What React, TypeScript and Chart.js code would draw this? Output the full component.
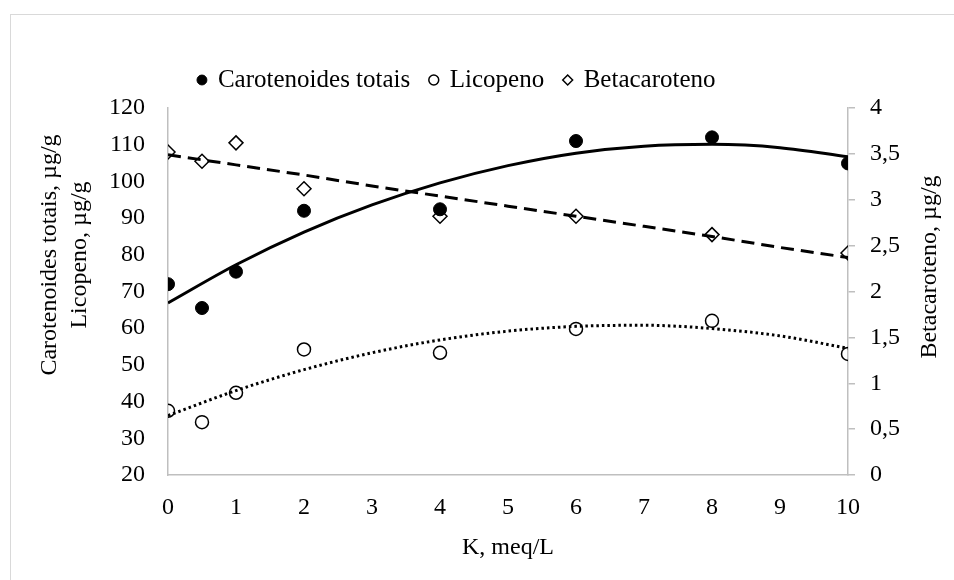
import React, { useEffect, useRef } from 'react';
import { Chart, registerables } from 'chart.js';

Chart.register(...registerables);

// ---- data ----
const xValues = [0, 0.5, 1, 2, 4, 6, 8, 10];
const carotenoides = [72.0, 65.5, 75.4, 92.0, 92.4, 111.0, 112.0, 104.9];
const licopeno = [37.5, 34.4, 42.4, 54.2, 53.3, 59.8, 62.0, 53.0];
const betacaroteno = [3.52, 3.42, 3.62, 3.12, 2.82, 2.82, 2.62, 2.42];

// trend lines
const trendX = [0, 1, 2, 3, 4, 5, 6, 7, 8, 9, 10];
const carotenoidesTrend = [66.9, 77.3, 86.2, 93.6, 99.6, 104.3, 107.7, 109.6, 110.1, 109.2, 106.7];
const licopenoTrend = [36.2, 43.0, 48.7, 53.3, 56.8, 59.2, 60.5, 60.8, 59.9, 57.9, 54.5];
const betacarotenoTrend = [3.49, 3.38, 3.27, 3.15, 3.04, 2.93, 2.82, 2.71, 2.6, 2.48, 2.37];

const seriesNames = ['Carotenoides totais', 'Licopeno', 'Betacaroteno'];
const xTitle = 'K, meq/L';
const leftTitle = ['Carotenoides totais, µg/g', 'Licopeno, µg/g'];
const rightTitle = 'Betacaroteno, µg/g';

const FONT = "'Times New Roman', 'Liberation Serif', serif";
const AXIS_GREY = '#bfbfbf';

export default function App() {
  const ref = useRef<HTMLCanvasElement>(null);

  useEffect(() => {
    if (!ref.current) return;
    const pts = (xs: number[], ys: number[]) => xs.map((x, i) => ({ x, y: ys[i] }));

    const titlesPlugin = {
      id: 'verticalTitles',
      afterDraw(chart: any) {
        const ctx = chart.ctx;
        const area = chart.chartArea;
        ctx.save();
        ctx.fillStyle = '#000';
        ctx.font = `24px ${FONT}`;
        ctx.textAlign = 'center';
        ctx.textBaseline = 'middle';
        leftTitle.forEach((t, i) => {
          ctx.save();
          ctx.translate(area.left - 118 + 30 * i, 255);
          ctx.rotate(-Math.PI / 2);
          ctx.fillText(t, 0, 0);
          ctx.restore();
        });
        ctx.save();
        ctx.translate(area.right + 82, 267);
        ctx.rotate(-Math.PI / 2);
        ctx.fillText(rightTitle, 0, 0);
        ctx.restore();
        ctx.restore();
      },
    };

    const chart = new Chart(ref.current, {
      type: 'scatter',
      data: {
        datasets: [
          {
            label: seriesNames[0],
            data: pts(xValues, carotenoides),
            yAxisID: 'y',
            pointStyle: 'circle',
            pointRadius: 6.5,
            backgroundColor: '#000',
            borderColor: '#000',
            borderWidth: 1,
            pointBorderWidth: 1,
            showLine: false,
          },
          {
            label: seriesNames[1],
            data: pts(xValues, licopeno),
            yAxisID: 'y',
            pointStyle: 'circle',
            pointRadius: 6.5,
            backgroundColor: 'rgba(0,0,0,0)',
            borderColor: '#000',
            borderWidth: 1.5,
            pointBorderWidth: 1.5,
            showLine: false,
          },
          {
            label: seriesNames[2],
            data: pts(xValues, betacaroteno),
            yAxisID: 'y1',
            pointStyle: 'rectRot',
            pointRadius: 7,
            backgroundColor: 'rgba(0,0,0,0)',
            borderColor: '#000',
            borderWidth: 1.5,
            pointBorderWidth: 1.5,
            showLine: false,
          },
          {
            label: 'trend-carotenoides',
            data: pts(trendX, carotenoidesTrend),
            yAxisID: 'y',
            showLine: true,
            pointRadius: 0,
            borderColor: '#000',
            borderWidth: 3,
            cubicInterpolationMode: 'monotone',
          },
          {
            label: 'trend-licopeno',
            data: pts(trendX, licopenoTrend),
            yAxisID: 'y',
            showLine: true,
            pointRadius: 0,
            borderColor: '#000',
            borderWidth: 3,
            borderDash: [2.5, 3],
            cubicInterpolationMode: 'monotone',
          },
          {
            label: 'trend-betacaroteno',
            data: pts(trendX, betacarotenoTrend),
            yAxisID: 'y1',
            showLine: true,
            pointRadius: 0,
            borderColor: '#000',
            borderWidth: 3,
            borderDash: [13, 7],
          },
        ] as any,
      },
      options: {
        responsive: false,
        animation: false,
        layout: { padding: { top: 47.5, left: 10, right: 50, bottom: 0 } },
        plugins: {
          legend: {
            position: 'top',
            labels: {
              usePointStyle: true,
              boxWidth: 7,
              boxHeight: 7,
              padding: 20,
              color: '#000',
              font: { size: 25, family: FONT },
              filter: (item: any) => item.datasetIndex < 3,
            },
          },
          title: {
            display: true,
            text: '',
            weight: 500,
            padding: 0,
            font: { size: 5, lineHeight: 1.1 },
          } as any,
          tooltip: { enabled: false },
        },
        scales: {
          x: {
            type: 'linear',
            min: 0,
            max: 10,
            ticks: { stepSize: 1, padding: 18, color: '#000', font: { size: 24, family: FONT } },
            grid: { display: false, drawTicks: false },
            border: { display: true, color: AXIS_GREY, width: 1.5 },
            title: {
              display: true,
              text: xTitle,
              color: '#000',
              font: { size: 24, family: FONT },
              padding: { top: 0, bottom: 18 },
            },
            afterFit: (s: any) => { s.height = 105; },
          },
          y: {
            type: 'linear',
            position: 'left',
            min: 20,
            max: 120,
            ticks: { stepSize: 10, padding: 23, color: '#000', font: { size: 24, family: FONT } },
            grid: { display: false, drawTicks: false },
            border: { display: true, color: AXIS_GREY, width: 1.5 },
            afterFit: (s: any) => { s.width = 158; },
          },
          y1: {
            type: 'linear',
            position: 'right',
            min: 0,
            max: 4,
            ticks: {
              stepSize: 0.5,
              padding: 15,
              color: '#000',
              font: { size: 24, family: FONT },
              callback: (v: any) => String(v).replace('.', ','),
            },
            grid: { display: true, drawOnChartArea: false, drawTicks: true, tickLength: 7, color: AXIS_GREY, lineWidth: 1.5 },
            border: { display: true, color: AXIS_GREY, width: 1.5 },
            afterFit: (s: any) => { s.width = 56; },
          },
        },
      } as any,
      plugins: [titlesPlugin],
    });
    return () => chart.destroy();
  }, []);

  return (
    <div style={{ position: 'fixed', left: 0, top: 0, width: 954, height: 580, overflow: 'hidden', background: '#fff' }}>
      <div
        style={{
          position: 'absolute',
          left: 10,
          top: 14,
          width: 1000,
          height: 1000,
          borderLeft: '1.5px solid #d9d9d9',
          borderTop: '1.5px solid #d9d9d9',
        }}
      />
      <canvas ref={ref} width={954} height={580} style={{ position: 'absolute', left: 0, top: 0, width: '954px', height: '580px' }} />
    </div>
  );
}
